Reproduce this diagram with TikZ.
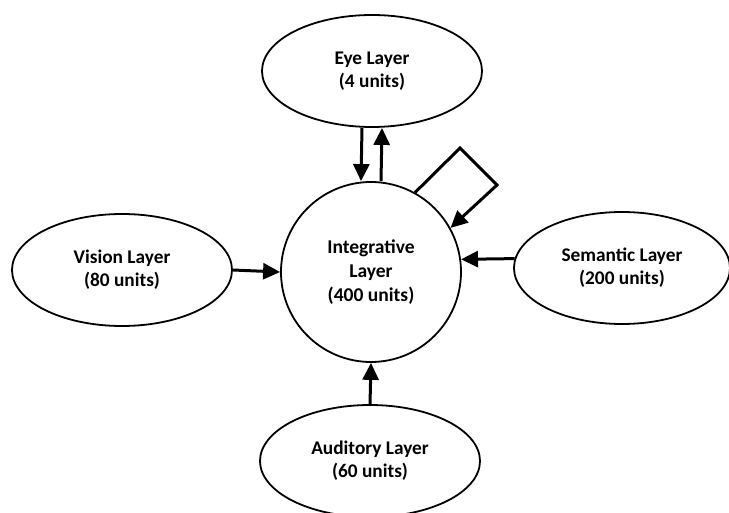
\documentclass[tikz,border=0pt]{standalone}
\usepackage{fontspec}
\setmainfont{Carlito}
\usetikzlibrary{arrows.meta,shapes.geometric}

\begin{document}
\begin{tikzpicture}[x=1bp,y=-1bp,line join=miter,
  layer/.style={draw,ellipse,line width=1.8bp,minimum width=220bp,minimum height=112bp,
    inner sep=0pt,align=center,font=\fontsize{19.4}{23}\selectfont\bfseries},
  hub/.style={draw,circle,line width=1.8bp,minimum size=180bp,
    inner sep=0pt,align=center,font=\fontsize{19.6}{24}\selectfont\bfseries},
  feed/.style={line width=3bp,-{Triangle[length=17bp,width=16bp]}}]
  \useasboundingbox (0,0) rectangle (729,513);
  % layers
  \node[hub] (integ) at (371,272) {Integrative\\Layer\\(400 units)};
  \node[layer] (eye) at (372,71) {Eye Layer\\(4 units)};
  \node[layer] (vision) at (122,270) {Vision Layer\\(80 units)};
  \node[layer,minimum width=216bp] (sem) at (622,268) {Semantic Layer\\(200 units)};
  \node[layer] (aud) at (370,461) {Auditory Layer\\(60 units)};
  % connections
  \draw[feed] ([xshift=-10bp]eye.south) -- ([xshift=-10bp]integ.north);
  \draw[feed] ([xshift=10bp]integ.north) -- ([xshift=10bp]eye.south);
  \draw[feed] (vision.east) -- (integ.west);
  \draw[feed] (sem.175) -- (integ.8);
  \draw[feed] (aud.north) -- (integ.south);
  % recurrent loop
  \coordinate (loopa) at (460,148);
  \coordinate (loopb) at (497,185);
  \draw[feed] (integ.61) -- (loopa) -- (loopb) -- (integ.29);
\end{tikzpicture}
\end{document}
